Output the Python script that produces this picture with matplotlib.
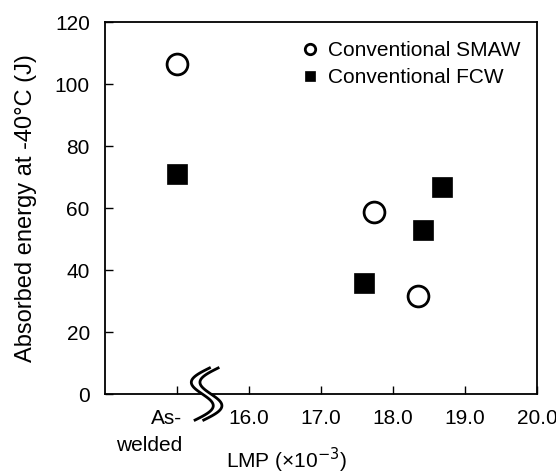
import numpy as np
import matplotlib.pyplot as plt
import matplotlib.transforms as mtrans

plt.rcParams["font.family"] = ["Liberation Sans", "DejaVu Sans"]

# data (LMP x10^-3; 15.0 is the as-welded position)
smaw_lmp = [15.0, 17.74, 18.35]
smaw_energy = [106.5, 58.8, 31.5]
fcw_lmp = [15.0, 17.59, 18.42, 18.68]
fcw_energy = [71, 35.8, 52.8, 66.8]

xticks = [15.0, 16.0, 17.0, 18.0, 19.0, 20.0]
xticklabels = ["As-\nwelded", "16.0", "17.0", "18.0", "19.0", "20.0"]
yticks = [0, 20, 40, 60, 80, 100, 120]

fig = plt.figure(figsize=(5.56, 4.75), dpi=100)
ax = fig.add_axes([0.189, 0.1705, 0.777, 0.783])

ax.plot(smaw_lmp, smaw_energy, "o", ms=15, mfc="white", mec="black", mew=2,
        label="Conventional SMAW", clip_on=False, zorder=3)
ax.plot(fcw_lmp, fcw_energy, "s", ms=14.5, mfc="black", mec="black", mew=0.5,
        label="Conventional FCW", clip_on=False, zorder=3)

ax.set_xlim(14.0, 20.0)
ax.set_ylim(0, 120)
ax.set_xticks(xticks)
ax.set_xticklabels(xticklabels, fontsize=15)
ax.set_yticks(yticks)
ax.tick_params(axis="both", direction="in", labelsize=15, length=6, width=1)
ax.tick_params(axis="y", pad=11)
ax.tick_params(axis="x", pad=11)
for s in ax.spines.values():
    s.set_linewidth(1.3)

# the as-welded label is right aligned, not centred
aw = ax.get_xticklabels()[0]
aw.set_horizontalalignment("right")
aw.set_multialignment("right")
aw.set_linespacing(1.5)
aw.set_transform(aw.get_transform() + mtrans.ScaledTranslation(5 / 100, 0, fig.dpi_scale_trans))

ax.set_ylabel("Absorbed energy at -40\u00b0C (J)", fontsize=17, labelpad=13)
ax.set_xlabel("LMP (\u00d710$^{-3}$)", fontsize=15)
ax.xaxis.set_label_coords(0.42, -0.138)

# axis break symbol
blend = mtrans.blended_transform_factory(ax.transData, ax.transAxes)
t = np.linspace(0, 1, 60)
yb = 0.07 - 0.14 * t
def wave_x(x0):
    return x0 - 0.2 * t - 0.2 * np.sin(2 * np.pi * t)
xa = wave_x(15.45)
xb = wave_x(15.57)
ax.fill(np.r_[xa, xb[::-1]], np.r_[yb, yb[::-1]], transform=blend,
        facecolor="white", edgecolor="none", clip_on=False, zorder=4)
for xw in (xa, xb):
    ax.plot(xw, yb, color="black", lw=2, transform=blend, clip_on=False, zorder=5)

ax.legend(loc="upper right", frameon=False, fontsize=15, markerscale=0.5,
          handletextpad=0.3, handlelength=1.1, borderaxespad=0.5, labelspacing=0.4,
          bbox_to_anchor=(1.005, 1.0))

fig.savefig("out.png", dpi=100)
